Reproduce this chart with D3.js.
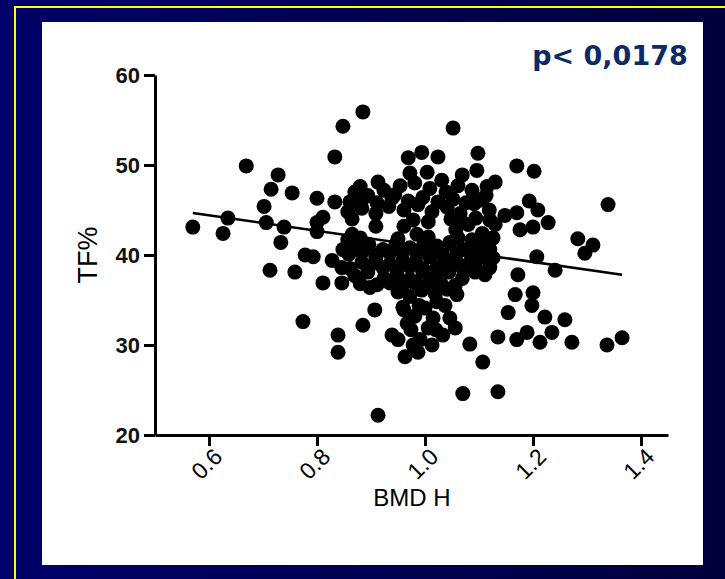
<!DOCTYPE html>
<html>
<head>
<meta charset="utf-8">
<script src="https://cdn.jsdelivr.net/npm/d3@7"></script>
<style>
  html, body { margin: 0; padding: 0; background: #000050; }
  svg { display: block; }
</style>
</head>
<body>
<div id="chart"></div>
<script>
// BMD H (x) and TF% (y) for each subject
const bmd = [
  0.570, 0.626, 0.635, 0.669, 0.702, 0.715, 0.728, 0.754, 0.800, 0.706,
  0.739, 0.733, 0.713, 0.759, 0.811, 0.778, 0.793, 0.800, 0.811, 0.833,
  0.828, 0.848, 0.846, 0.774, 0.839, 0.839, 0.848, 0.833, 0.885, 0.800,
  0.846, 0.911, 0.907, 0.885, 0.939, 0.959, 0.967, 0.963, 0.913, 0.880,
  0.913, 0.861, 0.944, 0.969, 0.972, 0.994, 1.024, 1.052, 1.098, 1.096,
  1.069, 1.031, 1.004, 1.130, 1.170, 1.202, 1.193, 1.209, 1.148, 1.170,
  1.228, 1.176, 1.200, 1.339, 1.283, 1.311, 1.296, 1.207, 1.241, 1.172,
  1.111, 1.167, 1.200, 1.198, 1.154, 1.222, 1.259, 1.135, 1.170, 1.213,
  1.189, 1.235, 1.272, 1.337, 1.365, 1.107, 1.135, 1.070, 1.059, 1.083,
  0.987, 0.978, 1.000, 1.022, 1.046, 1.056, 1.033, 1.126, 1.126, 1.120,
  0.898, 1.115,
  0.870, 0.894, 0.924, 0.954, 0.981, 1.009, 1.039, 1.061, 1.087, 1.113,
  0.857, 0.883, 0.909, 0.933, 0.961, 0.987, 1.013, 1.041, 1.065, 1.091, 1.119,
  0.865, 0.909, 0.961, 0.985, 1.006, 1.057, 1.080, 1.106, 1.130,
  0.872, 0.896, 0.922, 0.946, 0.972, 0.998, 1.022, 1.046, 1.070, 1.096, 1.120,
  0.883, 0.909, 0.935, 0.959, 0.983, 1.009, 1.035, 1.057, 1.083, 1.106,
  0.870, 0.894, 0.924, 0.948, 0.972, 0.996, 1.020, 1.044, 1.069, 1.093,
  0.950, 0.972, 0.994, 1.019, 1.041, 0.981, 1.006, 0.991, 1.015, 1.037, 1.013, 1.056,
  0.883, 0.911, 0.939, 0.969, 0.996, 1.024, 1.052, 1.076, 1.102,
  0.865, 0.978, 1.048, 1.067, 1.094, 1.120,
  0.857, 0.880, 0.950, 1.006, 1.061, 1.087, 1.113,
  0.859, 0.883, 0.909, 0.935, 0.959, 0.985, 1.009, 1.033, 1.059, 1.083, 1.107,
  0.861, 0.896, 0.922, 0.948, 0.972, 0.996, 1.022, 1.046, 1.070, 1.094,
  0.880, 0.935, 0.959, 0.983, 1.007, 1.031,
  0.961, 0.989, 0.974, 1.020, 0.950, 0.978
];
const tf = [
  43.1, 42.4, 44.1, 49.9, 45.4, 47.3, 48.9, 46.9, 46.3, 43.6,
  43.1, 41.4, 38.3, 38.1, 36.9, 40.0, 39.8, 43.6, 44.2, 45.9,
  39.4, 40.6, 36.9, 32.6, 31.1, 29.2, 54.3, 50.9, 55.9, 42.6,
  38.6, 36.7, 33.9, 32.2, 31.1, 34.2, 32.4, 28.7, 22.2, 47.6,
  48.1, 45.9, 46.7, 50.8, 49.1, 51.4, 50.9, 54.1, 51.3, 49.4,
  48.9, 48.3, 49.2, 48.1, 49.9, 49.3, 46.0, 45.0, 44.4, 44.7,
  43.6, 42.8, 43.1, 45.6, 41.8, 41.1, 40.2, 39.8, 38.3, 37.8,
  37.8, 35.6, 35.8, 34.4, 33.6, 33.1, 32.8, 30.9, 30.6, 30.3,
  31.4, 31.4, 30.3, 30.0, 30.8, 28.1, 24.8, 24.6, 35.6, 30.1,
  29.2, 37.0, 34.1, 34.8, 33.0, 31.9, 31.1, 41.9, 39.7, 38.6,
  36.4, 47.6,
  47.0, 46.6, 47.2, 47.7, 48.0, 47.4, 47.0, 47.7, 47.2, 46.6,
  44.8, 45.2, 44.6, 45.4, 45.0, 45.6, 44.8, 45.3, 44.6, 45.7, 45.0,
  42.3, 43.2, 43.2, 42.3, 43.7, 42.8, 43.4, 42.4, 43.4,
  40.8, 41.2, 40.6, 41.2, 40.8, 41.3, 41.0, 41.4, 40.6, 41.1, 40.6,
  39.2, 39.7, 39.0, 39.4, 39.2, 39.8, 39.0, 39.4, 39.2, 39.8,
  37.7, 38.1, 37.4, 37.9, 37.3, 38.1, 37.6, 38.1, 37.4, 38.1,
  35.9, 35.4, 36.1, 35.7, 36.2, 33.2, 31.9, 30.6, 33.0, 34.4, 30.0, 36.6,
  46.1, 45.8, 46.3, 46.0, 46.4, 45.9, 46.2, 45.8, 46.1,
  44.0, 43.9, 44.0, 43.8, 44.1, 43.9,
  41.7, 41.9, 41.8, 42.0, 41.9, 41.7, 41.9,
  40.1, 40.3, 40.0, 40.2, 40.4, 40.1, 40.3, 40.0, 40.2, 40.4, 40.1,
  38.5, 38.7, 38.6, 38.4, 38.7, 38.5, 38.6, 38.8, 38.5, 38.6,
  36.8, 36.9, 36.7, 36.9, 36.8, 36.7,
  33.9, 34.4, 31.7, 31.7, 30.6, 30.0
];

// regression line end points
const fitX = [0.570, 1.365];
const fitY = [44.67, 37.8];

const xTicks = [0.6, 0.8, 1.0, 1.2, 1.4];
const yTicks = [20, 30, 40, 50, 60];
const pLabel = "p< 0,0178";

const W = 725, H = 579;

const svg = d3.select("#chart").append("svg")
  .attr("width", W)
  .attr("height", H);

// slide background
const grad = svg.append("defs").append("linearGradient")
  .attr("id", "bg")
  .attr("x1", "0%").attr("x2", "100%")
  .attr("y1", "0%").attr("y2", "0%");
grad.append("stop").attr("offset", "0%").attr("stop-color", "#00006a");
grad.append("stop").attr("offset", "100%").attr("stop-color", "#00003c");

svg.append("rect")
  .attr("width", W).attr("height", H)
  .attr("fill", "url(#bg)");

svg.append("rect")
  .attr("x", 15).attr("y", 7)
  .attr("width", 800).attr("height", 800)
  .attr("fill", "none")
  .attr("stroke", "#ffff00")
  .attr("stroke-width", 2);

// white panel
svg.append("rect")
  .attr("x", 42).attr("y", 22)
  .attr("width", 661).attr("height", 543)
  .attr("fill", "#ffffff");

const x = d3.scaleLinear().domain([0.5, 1.45]).range([155, 668]);
const y = d3.scaleLinear().domain([20, 60]).range([435, 75]);

// axes
const xAxis = svg.append("g")
  .attr("transform", "translate(0,435)")
  .call(d3.axisBottom(x).tickValues(xTicks).tickFormat(d3.format(".1f")).tickSize(11).tickSizeOuter(0));

xAxis.selectAll("text")
  .attr("transform", "translate(0,9) rotate(-45)")
  .attr("text-anchor", "end")
  .attr("dy", "0.35em")
  .attr("dx", "0")
  .attr("y", 12)
  .attr("x", 0)
  .style("font-family", "'Liberation Sans', Arial, sans-serif")
  .style("font-size", "23px")
  .attr("fill", "#000");

const yAxis = svg.append("g")
  .attr("transform", "translate(155,0)")
  .call(d3.axisLeft(y).tickValues(yTicks).tickSize(11).tickSizeOuter(0).tickPadding(4));

yAxis.selectAll("text")
  .style("font-family", "'Liberation Sans', Arial, sans-serif")
  .style("font-size", "22px")
  .style("font-weight", "bold")
  .attr("fill", "#111");

svg.selectAll(".domain, .tick line")
  .attr("stroke", "#000")
  .attr("stroke-width", 3);

// points
svg.append("g")
  .selectAll("circle")
  .data(bmd.map((d, i) => [d, tf[i]]))
  .join("circle")
  .attr("cx", d => x(d[0]))
  .attr("cy", d => y(d[1]))
  .attr("r", 7.5)
  .attr("fill", "#000");

// linear fit
svg.append("path")
  .datum(fitX.map((d, i) => [d, fitY[i]]))
  .attr("d", d3.line().x(d => x(d[0])).y(d => y(d[1])))
  .attr("fill", "none")
  .attr("stroke", "#000")
  .attr("stroke-width", 2.5);

// axis titles
svg.append("text")
  .attr("transform", "translate(97,255) rotate(-90)")
  .attr("text-anchor", "middle")
  .style("font-family", "'Liberation Sans', Arial, sans-serif")
  .style("font-size", "27px")
  .text("TF%");

svg.append("text")
  .attr("x", 412).attr("y", 506)
  .attr("text-anchor", "middle")
  .style("font-family", "'Liberation Sans', Arial, sans-serif")
  .style("font-size", "24px")
  .text("BMD H");

svg.append("text")
  .attr("x", 610).attr("y", 65)
  .attr("text-anchor", "middle")
  .style("font-family", "'DejaVu Sans', Verdana, sans-serif")
  .style("font-size", "27px")
  .style("font-weight", "bold")
  .attr("fill", "#0b2a66")
  .text(pLabel);
</script>
</body>
</html>
